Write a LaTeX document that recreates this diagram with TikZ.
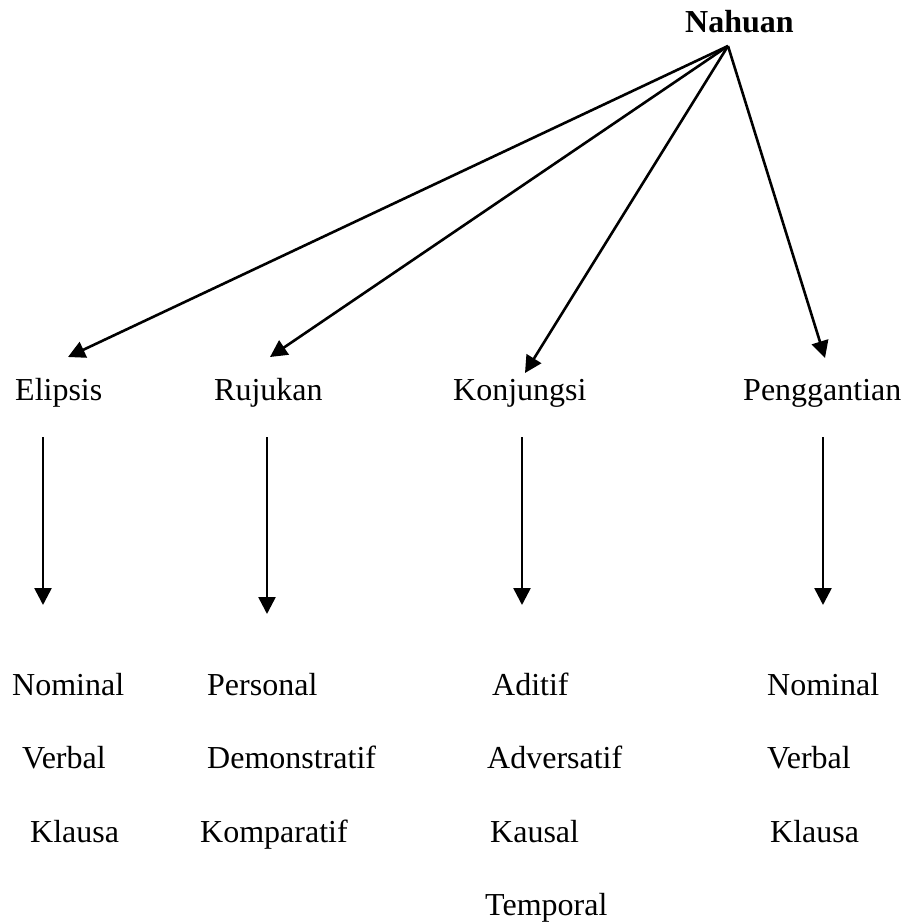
\documentclass[tikz,border=0pt]{standalone}
\usepackage{fontspec}
\setmainfont{Liberation Serif}
\usetikzlibrary{arrows.meta}
\tikzset{
  lbl/.style={anchor=base west, inner sep=0pt, font=\fontsize{32}{38}\selectfont},
  hd/.style={lbl, font=\fontsize{32}{38}\selectfont\bfseries},
  arr/.style={line width=2.6pt, -{Triangle[length=17pt,width=17pt]}}
}
\begin{document}
\begin{tikzpicture}[x=1pt,y=-1pt]
\useasboundingbox (0,0) rectangle (906,923);
% top
\node[hd] (nahuan) at (685,33) {Nahuan};
\coordinate (apex) at (728,46);
% level 2
\node[lbl] (elipsis) at (15,400) {Elipsis};
\node[lbl] (rujukan) at (214,400) {Rujukan};
\node[lbl] (konjungsi) at (453,400) {Konjungsi};
\node[lbl] (penggantian) at (743,400) {Penggantian};
\coordinate (tE) at (68,357);
\coordinate (tR) at (270,357);
\coordinate (tK) at (525,373);
\coordinate (tP) at (825,358);
\draw[arr] (apex) -- (tE);
\draw[arr] (apex) -- (tR);
\draw[arr] (apex) -- (tK);
\draw[arr] (apex) -- (tP);
% vertical arrows
\coordinate (sE) at (43,437);   \coordinate (eE) at (43,605);
\coordinate (sR) at (267,437);  \coordinate (eR) at (267,614);
\coordinate (sK) at (522,437);  \coordinate (eK) at (522,605);
\coordinate (sP) at (823,437);  \coordinate (eP) at (823,605);
\draw[arr] (sE) -- (eE);
\draw[arr] (sR) -- (eR);
\draw[arr] (sK) -- (eK);
\draw[arr] (sP) -- (eP);
% level 3
\node[lbl] (e1) at (12,695) {Nominal};
\node[lbl] (e2) at (22,768) {Verbal};
\node[lbl] (e3) at (30,842) {Klausa};
\node[lbl] (r1) at (207,695) {Personal};
\node[lbl] (r2) at (207,768) {Demonstratif};
\node[lbl] (r3) at (200,842) {Komparatif};
\node[lbl] (k1) at (492,695) {Aditif};
\node[lbl] (k2) at (487,768) {Adversatif};
\node[lbl] (k3) at (490,842) {Kausal};
\node[lbl] (k4) at (485,915) {Temporal};
\node[lbl] (p1) at (767,695) {Nominal};
\node[lbl] (p2) at (767,768) {Verbal};
\node[lbl] (p3) at (770,842) {Klausa};
\end{tikzpicture}
\end{document}
